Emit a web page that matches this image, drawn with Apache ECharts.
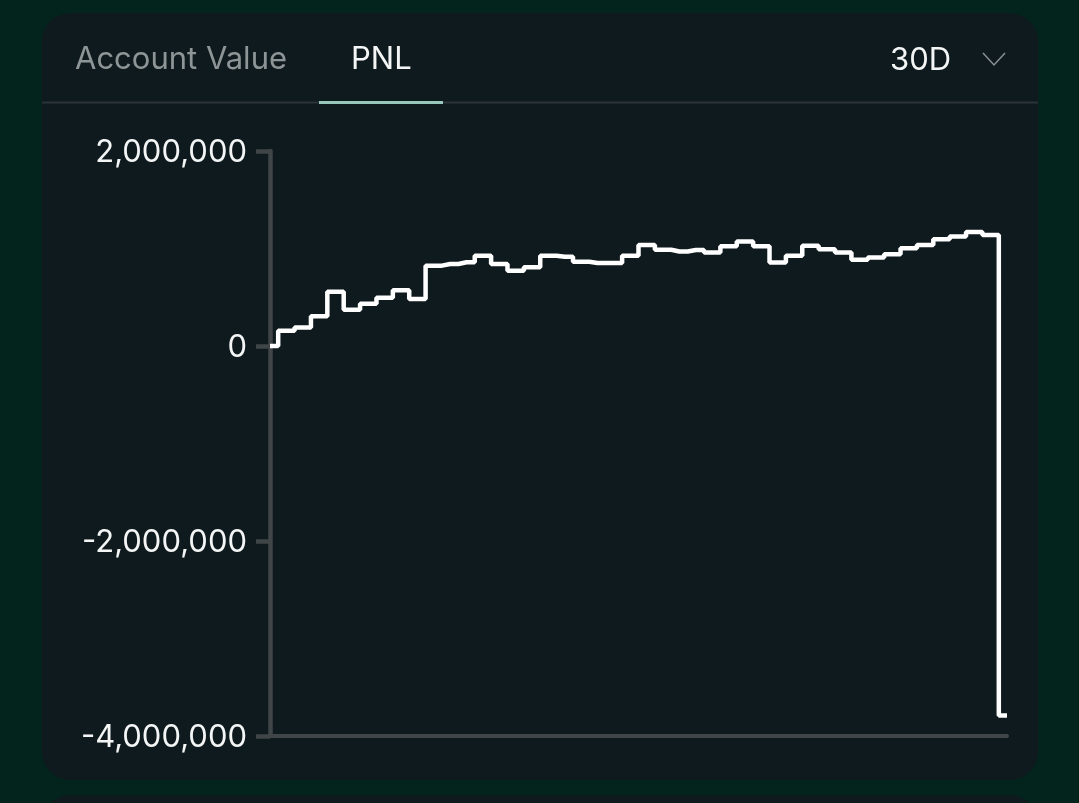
<!DOCTYPE html>
<html>
<head>
<meta charset="utf-8">
<script src="https://cdn.jsdelivr.net/npm/echarts@6/dist/echarts.min.js"></script>
<style>
  html, body { margin: 0; padding: 0; background: #03231d; }
  #chart { width: 1079px; height: 803px; }
</style>
</head>
<body>
<div id="chart"></div>
<script>
// Time steps (30D window, 46 samples)
const categories = ['1','2','3','4','5','6','7','8','9','10','11','12','13','14','15','16','17','18','19','20','21','22','23','24','25','26','27','28','29','30','31','32','33','34','35','36','37','38','39','40','41','42','43','44','45','46'];
// PNL values (USD)
const pnlValues = [0, 157000, 190000, 305000, 557000, 372000, 434000, 496000, 571000, 482000,
  824000, 841000, 859000, 926000, 841000, 772000, 807000, 926000, 915000, 864000,
  851000, 851000, 926000, 1036000, 987000, 969000, 985000, 959000, 1023000, 1072000,
  1023000, 856000, 925000, 1027000, 993000, 959000, 885000, 908000, 942000, 1002000,
  1036000, 1095000, 1123000, 1168000, 1138000, -3790000];
const yTicks = [-4000000, -2000000, 0, 2000000];
const tabLabels = ['Account Value', 'PNL'];
const rangeLabel = '30D';

const chart = echarts.init(document.getElementById('chart'), null, { renderer: 'canvas' });
const font = 'Inter, "Noto Sans", sans-serif';
const axisColor = '#404547';

const option = {
  backgroundColor: '#03231d',
  animation: false,
  graphic: [
    { type: 'rect', z: -10, shape: { x: 42, y: 13, width: 996, height: 767, r: 28 }, style: { fill: '#0f1a1f' } },
    { type: 'rect', z: -10, shape: { x: 42, y: 795, width: 996, height: 60, r: 28 }, style: { fill: '#0f1a1f' } },
    { type: 'line', shape: { x1: 42, y1: 102.5, x2: 1038, y2: 102.5 }, style: { stroke: '#2a3338', lineWidth: 2 } },
    { type: 'line', shape: { x1: 319, y1: 102.5, x2: 443, y2: 102.5 }, style: { stroke: '#97c8bb', lineWidth: 3 } },
    { type: 'text', left: 75, top: 44, style: { text: tabLabels[0], fill: '#8e9596', font: '31px ' + font } },
    { type: 'text', left: 351, top: 44, style: { text: tabLabels[1], fill: '#f4f6f6', font: '31px ' + font } },
    { type: 'text', left: 890, top: 45, style: { text: rangeLabel, fill: '#f4f6f6', font: '31px ' + font } },
    { type: 'polyline', shape: { points: [[983, 53], [994, 65], [1005, 53]] }, style: { stroke: '#8a9192', lineWidth: 1.5, fill: null } }
  ],
  grid: { left: 270, right: 72, top: 151, bottom: 67, containLabel: false },
  xAxis: {
    type: 'category',
    data: categories,
    boundaryGap: false,
    axisLine: { show: true, onZero: false, lineStyle: { color: axisColor, width: 4 } },
    axisTick: { show: false },
    axisLabel: { show: false },
    splitLine: { show: false }
  },
  yAxis: {
    type: 'value',
    min: yTicks[0],
    max: yTicks[yTicks.length - 1],
    interval: 2000000,
    axisLine: { show: true, lineStyle: { color: axisColor, width: 4.5 } },
    axisTick: { show: true, length: 14, lineStyle: { color: axisColor, width: 4.5 } },
    axisLabel: {
      margin: 23,
      color: '#f4f6f6',
      fontSize: 31,
      fontFamily: font,
      formatter: v => '{a|' + v.toLocaleString('en-US') + '}',
      rich: {
        a: { color: '#f4f6f6', fontSize: 31, fontFamily: font, padding: [4, 0, 0, 0] }
      }
    },
    splitLine: { show: false }
  },
  series: [{
    type: 'line',
    step: 'middle',
    data: pnlValues,
    showSymbol: false,
    lineStyle: { color: '#ffffff', width: 4.5 },
    z: 5
  }]
};
chart.setOption(option);
</script>
</body>
</html>
